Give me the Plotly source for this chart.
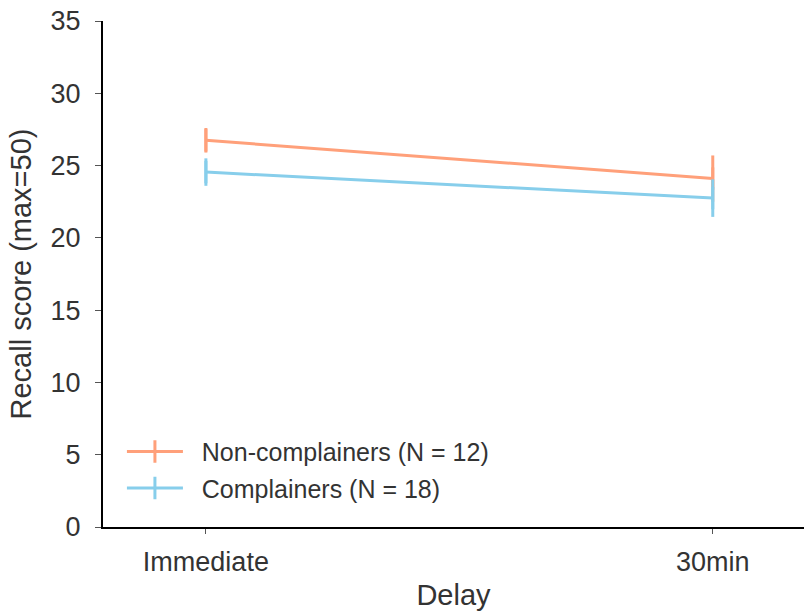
import plotly.graph_objects as go

categories = ["Immediate", "30min"]
non_mean = [26.75, 24.1]
non_err = [0.85, 1.6]
comp_mean = [24.55, 22.75]
comp_err = [0.95, 1.3]
y_ticks = [0, 5, 10, 15, 20, 25, 30, 35]

ORANGE = "#FFA07A"
BLUE = "#87CEEB"
FONT = "Arial, Liberation Sans, Helvetica, sans-serif"
TXT = "#333333"
NB = "\u00a0\u00a0"

fig = go.Figure()
fig.add_trace(go.Scatter(
    x=[0, 1], y=non_mean, name=NB + "Non-complainers (N = 12)",
    mode="lines+markers", legendgroup="a",
    line=dict(color=ORANGE, width=3),
    marker=dict(symbol="line-ns-open", size=16, line=dict(color=ORANGE, width=3), color=ORANGE),
    error_y=dict(type="data", array=non_err, color=ORANGE, thickness=3, width=0),
))
fig.add_trace(go.Scatter(
    x=[0, 1], y=comp_mean, name=NB + "Complainers (N = 18)",
    mode="lines+markers", legendgroup="b",
    line=dict(color=BLUE, width=3),
    marker=dict(symbol="line-ns-open", size=16, line=dict(color=BLUE, width=3), color=BLUE),
    error_y=dict(type="data", array=comp_err, color=BLUE, thickness=3, width=0),
))

fig.update_layout(
    width=804, height=611,
    margin=dict(l=103, r=0, t=21, b=84),
    plot_bgcolor="white", paper_bgcolor="white",
    font=dict(family=FONT, size=26, color=TXT),
    showlegend=True,
    legend=dict(
        x=0.027, y=0.032, xanchor="left", yanchor="bottom",
        bgcolor="rgba(0,0,0,0)", font=dict(size=25, color=TXT),
        itemwidth=56, tracegroupgap=1, traceorder="grouped",
    ),
    xaxis=dict(
        range=[-0.203, 1.18], tickmode="array", tickvals=[0, 1], ticktext=categories,
        showgrid=False, zeroline=False, showline=True, linecolor="black", linewidth=2,
        ticks="outside", ticklen=5, tickwidth=1, tickcolor="#555555",
        ticklabelstandoff=5,
        title=dict(text="Delay", font=dict(size=29, color=TXT), standoff=8),
        tickfont=dict(size=27, color=TXT),
    ),
    yaxis=dict(
        range=[0, 35], tickvals=y_ticks,
        showgrid=False, zeroline=False, showline=True, linecolor="black", linewidth=2,
        ticks="outside", ticklen=6, tickwidth=1, tickcolor="#555555",
        ticklabelstandoff=9,
        title=dict(text="Recall score (max=50)", font=dict(size=29, color=TXT), standoff=10),
        tickfont=dict(size=27, color=TXT),
    ),
)

fig.write_html("out.html")
